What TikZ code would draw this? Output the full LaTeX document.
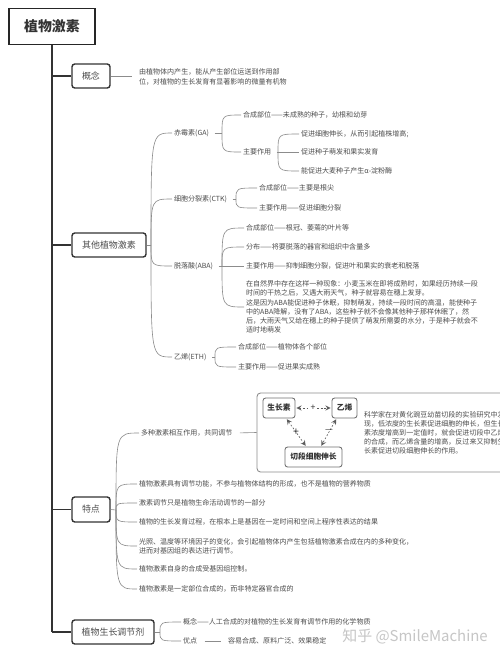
\documentclass[tikz,border=0pt]{standalone}
\usepackage{fontspec}
\setmainfont{Noto Sans CJK SC}
\definecolor{ink}{HTML}{333333}
\definecolor{twigc}{HTML}{8C8C8C}
\definecolor{txt}{HTML}{4D4D4D}
\begin{document}
\begin{tikzpicture}[x=0.02cm,y=-0.02cm,>=stealth,
    lbl/.style={anchor=west,inner sep=0pt,inner xsep=1pt,text=txt,align=left,
      font=\fontsize{4}{5.3}\selectfont},
    topic/.style={draw=ink,line width=0.8pt,rounded corners=1.6pt,text=txt,inner sep=0pt,
      minimum height=0.48cm,font=\fontsize{5.1}{6}\selectfont},
    rootbox/.style={draw=black!85,line width=1.1pt,text=ink,inner sep=0pt,
      minimum width=1.72cm,minimum height=0.72cm,font=\fontsize{7.9}{9}\selectfont\bfseries},
    cell/.style={draw=ink!70,line width=0.5pt,rounded corners=1.5pt,fill=white,text=ink,
      inner sep=0pt,minimum height=0.4cm,font=\fontsize{4.4}{5}\selectfont\bfseries},
    twig/.style={draw=twigc,line width=0.35pt},
    trunk/.style={draw=ink,line width=0.85pt},
    link/.style={draw=ink!80,line width=0.35pt,dash pattern=on 1pt off 1pt,<->,shorten <=0.5pt,shorten >=0.5pt}]
  \useasboundingbox (0,0) rectangle (500,657);
  \fill[white] (0,0) rectangle (500,657);
  % main topics
  \node[rootbox] (root) at (52,26.5) {植物激素};
  \node[topic,minimum width=0.76cm] (gn) at (91,76) {概念};
  \node[topic,minimum width=1.48cm] (qt) at (109,245) {其他植物激素};
  \node[topic,minimum width=0.76cm,minimum height=0.5cm] (td) at (91,509.5) {特点};
  \node[topic,minimum width=1.64cm] (tj) at (113,632) {植物生长调节剂};
  \draw[trunk] (root.south) -- (root.south |- tj.west);
  \draw[trunk] (root.south |- gn.west) -- (gn.west);
  \draw[trunk] (root.south |- qt.west) -- (qt.west);
  \draw[trunk] (root.south |- td.west) -- (td.west);
  \draw[trunk] (root.south |- tj.west) -- (tj.west);
  % 概念
  \node[lbl] (gn1) at (137,77) {由植物体内产生，能从产生部位运送到作用部\\位，对植物的生长发育有显著影响的微量有机物};
  \draw[twig,shorten >=3pt] (gn.east) -- (gn.east -| gn1.west);
  % 其他植物激素
  \coordinate (oqt) at (151,245);
  \node[lbl] (ga) at (172,133) {赤霉素(GA)};
  \node[lbl] (ctk) at (172,199) {细胞分裂素(CTK)};
  \node[lbl] (aba) at (172,266) {脱落酸(ABA)};
  \node[lbl] (eth) at (172,357) {乙烯(ETH)};
  \draw[twig] (qt.east) -- (oqt);
  \draw[twig] (oqt) .. controls (oqt |- ga.west) .. (ga.west);
  \draw[twig] (oqt) .. controls (oqt |- ctk.west) .. (ctk.west);
  \draw[twig] (oqt) .. controls (oqt |- aba.west) .. (aba.west);
  \draw[twig] (oqt) .. controls (oqt |- eth.west) .. (eth.west);
  % 赤霉素
  \coordinate (oga) at (222,133);
  \node[lbl] (ga1) at (241,115) {合成部位——未成熟的种子，幼根和幼芽};
  \node[lbl] (ga2) at (241,152) {主要作用};
  \draw[twig,shorten <=2pt] (ga.east) -- (oga);
  \draw[twig] (oga) .. controls (oga |- ga1.west) .. (ga1.west);
  \draw[twig] (oga) .. controls (oga |- ga2.west) .. (ga2.west);
  \coordinate (oga2) at (278,152);
  \node[lbl] (ga21) at (299,134) {促进细胞伸长，从而引起植株增高;};
  \node[lbl] (ga22) at (299,152) {促进种子萌发和果实发育};
  \node[lbl] (ga23) at (299,171) {能促进大麦种子产生α-淀粉酶};
  \draw[twig,shorten <=2pt] (ga2.east) -- (oga2);
  \draw[twig] (oga2) .. controls (oga2 |- ga21.west) .. (ga21.west);
  \draw[twig] (oga2) -- (ga22.west);
  \draw[twig] (oga2) .. controls (oga2 |- ga23.west) .. (ga23.west);
  % 细胞分裂素
  \coordinate (octk) at (236,199);
  \node[lbl] (ctk1) at (257,188) {合成部位——主要是根尖};
  \node[lbl] (ctk2) at (257,208) {主要作用——促进细胞分裂};
  \draw[twig,shorten <=2pt] (ctk.east) -- (octk);
  \draw[twig] (octk) .. controls (octk |- ctk1.west) .. (ctk1.west);
  \draw[twig] (octk) .. controls (octk |- ctk2.west) .. (ctk2.west);
  % 脱落酸
  \coordinate (oaba) at (222,266);
  \node[lbl] (aba1) at (244,228) {合成部位——根冠、萎蔫的叶片等};
  \node[lbl] (aba2) at (244,247) {分布——将要脱落的器官和组织中含量多};
  \node[lbl] (aba3) at (244,266) {主要作用——抑制细胞分裂，促进叶和果实的衰老和脱落};
  \node[lbl,font=\fontsize{4}{5.2}\selectfont] (aba4) at (244,307) {在自然界中存在这样一种现象：小麦玉米在即将成熟时，如果经历持续一段\\时间的干热之后，又遇大雨天气，种子就容易在穗上发芽。\\这是因为ABA能促进种子休眠，抑制萌发，持续一段时间的高温，能使种子\\中的ABA降解，没有了ABA，这些种子就不会像其他种子那样休眠了，然\\后，大雨天气又给在穗上的种子提供了萌发所需要的水分，于是种子就会不\\适时地萌发};
  \draw[twig,shorten <=2pt] (aba.east) -- (oaba);
  \draw[twig] (oaba) .. controls (oaba |- aba1.west) .. (aba1.west);
  \draw[twig] (oaba) .. controls (oaba |- aba2.west) .. (aba2.west);
  \draw[twig] (oaba) -- (aba3.west);
  \draw[twig] (oaba) .. controls (oaba |- aba4.west) .. (aba4.west);
  % 乙烯
  \coordinate (oeth) at (215,357);
  \node[lbl] (eth1) at (236,347) {合成部位——植物体各个部位};
  \node[lbl] (eth2) at (236,367) {主要作用——促进果实成熟};
  \draw[twig,shorten <=2pt] (eth.east) -- (oeth);
  \draw[twig] (oeth) .. controls (oeth |- eth1.west) .. (eth1.west);
  \draw[twig] (oeth) .. controls (oeth |- eth2.west) .. (eth2.west);
  % 特点
  \coordinate (otd) at (116,510);
  \node[lbl] (td1) at (139,433) {多种激素相互作用，共同调节};
  \node[lbl] (td2) at (137,484) {植物激素具有调节功能，不参与植物体结构的形成，也不是植物的营养物质};
  \node[lbl] (td3) at (137,503) {激素调节只是植物生命活动调节的一部分};
  \node[lbl] (td4) at (137,522) {植物的生长发育过程，在根本上是基因在一定时间和空间上程序性表达的结果};
  \node[lbl] (td5) at (137,546) {光照、温度等环境因子的变化，会引起植物体内产生包括植物激素合成在内的多种变化，\\进而对基因组的表达进行调节。};
  \node[lbl] (td6) at (137,569) {植物激素自身的合成受基因组控制。};
  \node[lbl] (td7) at (137,589) {植物激素是一定部位合成的，而非特定器官合成的};
  \draw[twig] (td.east) -- (otd);
  \draw[twig] (otd) .. controls (otd |- td1.west) .. (td1.west);
  \draw[twig] (otd) .. controls (otd |- td2.west) .. (td2.west);
  \draw[twig] (otd) .. controls (otd |- td3.west) .. (td3.west);
  \draw[twig] (otd) .. controls (otd |- td4.west) .. (td4.west);
  \draw[twig] (otd) .. controls (otd |- td5.west) .. (td5.west);
  \draw[twig] (otd) .. controls (otd |- td6.west) .. (td6.west);
  \draw[twig] (otd) .. controls (otd |- td7.west) .. (td7.west);
  % 相互作用
  \node[draw=twigc,line width=0.5pt,rounded corners=2pt,minimum width=5.16cm,minimum height=1.58cm] (fr) at (386,432.5) {};
  \draw[twig,shorten <=3pt] (td1.east) -- (fr.west);
  \node[cell,minimum width=0.64cm] (sz) at (279,408) {生长素};
  \node[cell,minimum width=0.5cm] (yx) at (344.5,408) {乙烯};
  \node[cell,minimum width=1.14cm] (qd) at (313.5,457) {切段细胞伸长};
  \draw[link] (sz.east) -- (yx.west);
  \draw[link] (sz.-55) -- (qd.125);
  \draw[link] (yx.-127) -- (qd.55);
  \node[fill=white,inner sep=0.3pt,text=ink,font=\fontsize{5}{5}\selectfont] (p1) at (313,408) {+};
  \node[text=ink,inner sep=0pt,font=\fontsize{6}{6}\selectfont] (p2) at (296,432) {+};
  \node[text=ink,inner sep=0pt,font=\fontsize{5}{5}\selectfont] (m1) at (329,431) {—};
  \node[lbl,font=\fontsize{4}{5.2}\selectfont] (fx) at (362,433) {科学家在对黄化豌豆幼苗切段的实验研究中发\\现，低浓度的生长素促进细胞的伸长，但生长\\素浓度增高到一定值时，就会促进切段中乙烯\\的合成，而乙烯含量的增高，反过来又抑制生\\长素促进切段细胞伸长的作用。};
  % 植物生长调节剂
  \coordinate (otj) at (160,632);
  \node[lbl] (tj1) at (181,622) {概念——人工合成的对植物的生长发育有调节作用的化学物质};
  \node[lbl] (tj2) at (181,641) {优点};
  \node[lbl] (tj3) at (226,641) {容易合成、原料广泛、效果稳定};
  \draw[twig] (tj.east) -- (otj);
  \draw[twig] (otj) .. controls (otj |- tj1.west) .. (tj1.west);
  \draw[twig] (otj) .. controls (otj |- tj2.west) .. (tj2.west);
  \draw[twig,shorten <=3pt,shorten >=3pt] (tj2.east) -- (tj3.west);
  \node[anchor=west,inner sep=0pt,text=gray!45,font=\fontsize{8.5}{10}\selectfont] (wm) at (342,637) {知乎 @SmileMachine};
\end{tikzpicture}
\end{document}
